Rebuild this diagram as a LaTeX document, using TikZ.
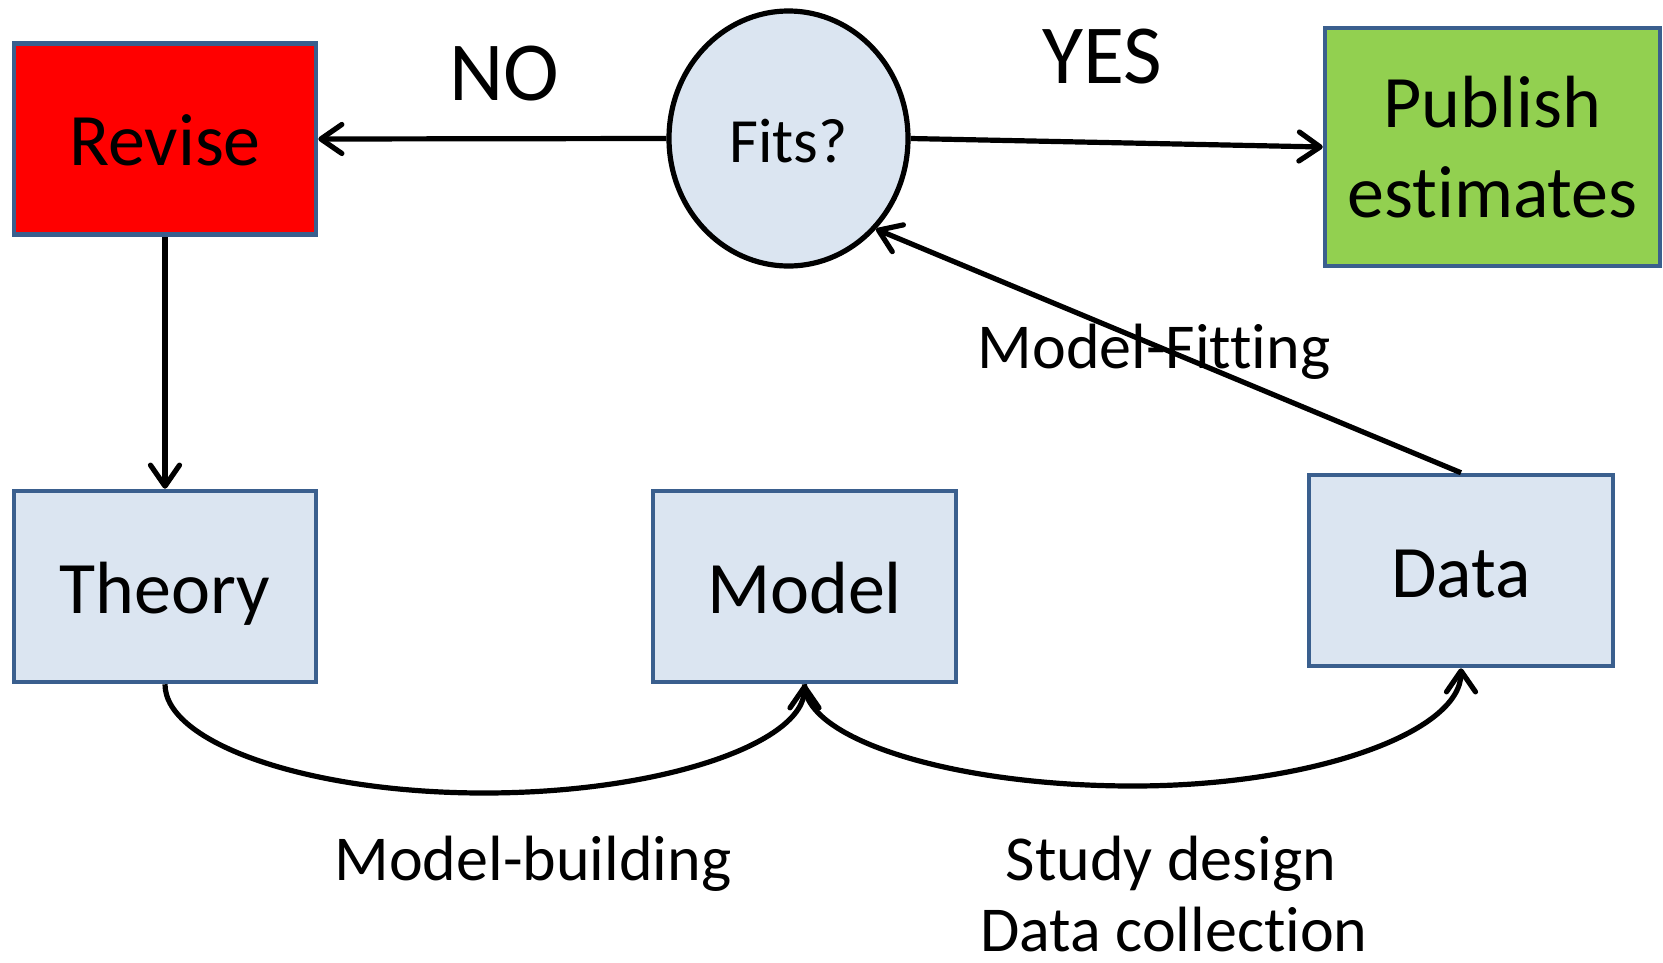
\documentclass[tikz,border=0pt]{standalone}
\usepackage{fontspec}
\setmainfont{Carlito}[Ligatures=NoCommon]
\usetikzlibrary{arrows.meta,shapes.geometric}
\definecolor{boxfill}{HTML}{DBE5F1}
\definecolor{boxline}{HTML}{3A5F8E}
\definecolor{pubgreen}{HTML}{92D050}
\begin{document}
\begin{tikzpicture}[x=1pt,y=-1pt,
  box/.style={draw=boxline, line width=4.5pt, fill=boxfill, rectangle,
    minimum width=302pt, minimum height=191pt, inner sep=0pt,
    font=\fontsize{74}{90}\selectfont},
  boxtext/.style={text height=53pt, text depth=0pt},
  arr/.style={line width=5.2pt, -{Straight Barb[length=21pt,width=29pt,round]}},
  lbl/.style={font=\fontsize{64}{76}\selectfont, anchor=base, inner sep=0pt},
  big/.style={font=\fontsize{84}{100}\selectfont, anchor=base, inner sep=0pt}]
\useasboundingbox (0,0) rectangle (1663,962);

\node[box, boxtext, fill=red] (revise) at (165,139) {Revise};
\node[box, boxtext] (theory) at (165,586.5) {Theory};
\node[box, boxtext, minimum width=303pt] (model) at (804.5,586.5) {Model};
\node[box, boxtext, minimum width=304pt] (data) at (1461,570.5) {Data};
\node[box, fill=pubgreen, minimum width=335pt, minimum height=238pt, align=center] (publish) at (1492.5,147) {Publish\\estimates};
\node[ellipse, draw=black, line width=5.2pt, fill=boxfill, minimum width=239pt,
  minimum height=255pt, inner sep=0pt, font=\fontsize{63}{75}\selectfont,
  text height=47pt, text depth=0pt] (fits) at (788.5,138.5) {Fits?};

\node[big] (no) at (504,100) {NO};
\node[big] (yes) at (1102,83) {YES};
\node[lbl] (mfit) at (1154,368) {Model-Fitting};
\node[lbl] (mbuild) at (533,880) {Model-building};
\node[lbl] (study) at (1171,880) {Study design};
\node[lbl] (collect) at (1174,951) {Data collection};

\coordinate (mb) at (484,793);
\coordinate (sd) at (1133,786);

\draw[arr] (fits.west) -- (revise.east);
\draw[arr] (fits.east) -- (publish.west);
\draw[arr] (revise.south) -- (theory.north);
\draw[arr] (data.north) -- (fits.-46);
\draw[arr] (theory.south) .. controls +(0,59) and +(-175,0) .. (mb)
  .. controls +(177,0) and +(0,59) .. (model.south);
\draw[arr] (model.south) .. controls +(0,55) and +(-180,0) .. (sd)
  .. controls +(180,0) and +(0,64) .. (data.south);
\end{tikzpicture}
\end{document}
